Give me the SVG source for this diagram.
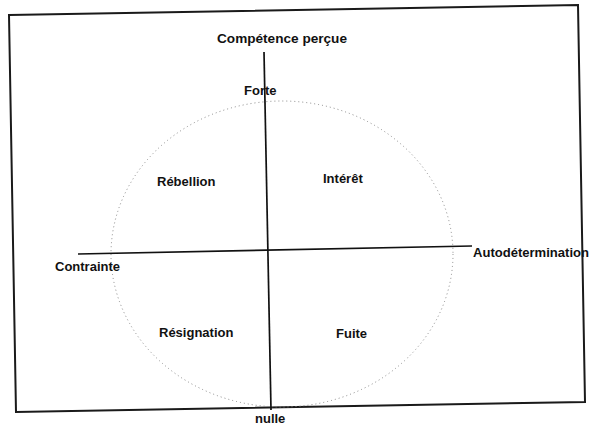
<svg xmlns="http://www.w3.org/2000/svg" width="591" height="427" viewBox="0 0 591 427">
<style>
text{font-family:"Liberation Sans",Arial,sans-serif;font-weight:bold;font-size:13px;fill:#111}
.ax{stroke:#111;stroke-width:1.7;fill:none}
.fr{stroke:#1a1a1a;stroke-width:2;fill:none}
.circ{stroke:#888;stroke-width:1;fill:none;stroke-dasharray:1 3}
</style>
<rect width="591" height="427" fill="#fff"/>
<polygon class="fr" points="9,15 578,5 585,402 16,412"/>
<ellipse class="circ" cx="282" cy="254" rx="171" ry="153"/>
<g id="connectors">
<line class="ax" x1="264" y1="52" x2="271" y2="410"/>
<line class="ax" x1="78" y1="254" x2="472" y2="246"/>
</g>
<g id="competence"><text x="217" y="43" textLength="130" lengthAdjust="spacingAndGlyphs">Compétence perçue</text></g>
<g id="forte"><text x="244" y="95">Forte</text></g>
<g id="nulle"><text x="255" y="423">nulle</text></g>
<g id="contrainte"><text x="55" y="271">Contrainte</text></g>
<g id="autodetermination"><text x="473" y="257" textLength="116" lengthAdjust="spacingAndGlyphs">Autodétermination</text></g>
<g id="rebellion"><text x="157" y="186">Rébellion</text></g>
<g id="interet"><text x="323" y="183">Intérêt</text></g>
<g id="resignation"><text x="159" y="337">Résignation</text></g>
<g id="fuite"><text x="336" y="338">Fuite</text></g>
</svg>
